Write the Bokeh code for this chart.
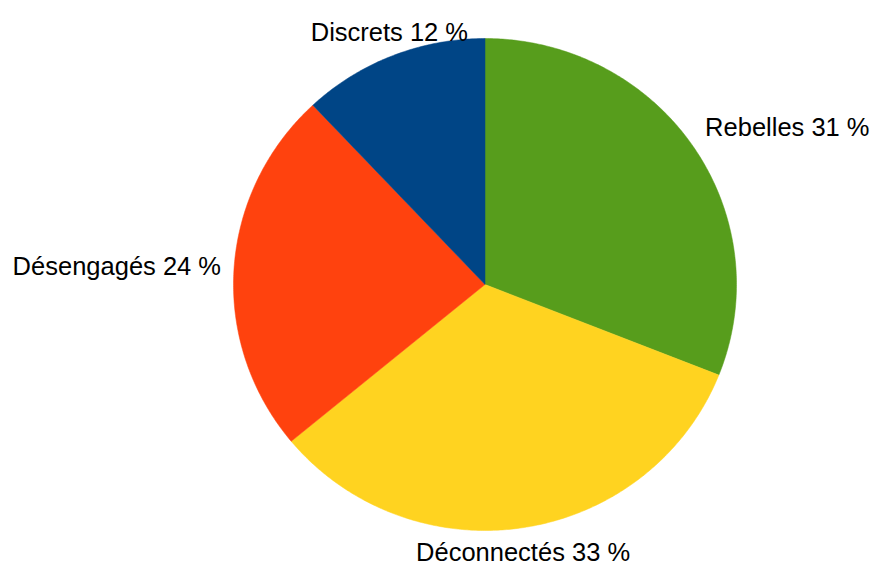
import numpy as np
from bokeh.plotting import figure
from bokeh.models import ColumnDataSource, Range1d
from bokeh.core.properties import value
from bokeh.embed import file_html
from bokeh.resources import INLINE

categories = ["Rebelles", "Déconnectés", "Désengagés", "Discrets"]
percents = [31, 33, 24, 12]
colors = ["#579D1C", "#FFD320", "#FF420E", "#004586"]

W, H = 873, 563
cx, cy = 484.5, H - 284.0
RX, RY = 251.5, 246.0
label_gap = 11.0
nudge_x = [3, -3, -2, 1]
nudge_y = [1, 0, -2, 0]

frac = np.array(percents, dtype=float) / sum(percents)
cum = np.concatenate([[0.0], np.cumsum(frac)])
start = np.pi / 2 - 2 * np.pi * cum[:-1]
end = np.pi / 2 - 2 * np.pi * cum[1:]
mid = (start + end) / 2

xs, ys = [], []
for a0, a1 in zip(start, end):
    n = max(8, int(abs(a1 - a0) / (2 * np.pi) * 720))
    t = np.linspace(a0, a1, n)
    xs.append(np.concatenate([[cx], cx + RX * np.cos(t)]))
    ys.append(np.concatenate([[cy], cy + RY * np.sin(t)]))

lx = cx + (RX + label_gap) * np.cos(mid)
ly = cy + (RY + label_gap) * np.sin(mid)
aligns = ["left" if c > 0.5 else ("right" if c < -0.5 else "center") for c in np.cos(mid)]
baselines = ["bottom" if s > 0.5 else ("top" if s < -0.5 else "middle") for s in np.sin(mid)]
labels = [f"{c} {p} %" for c, p in zip(categories, percents)]

src = ColumnDataSource(dict(xs=xs, ys=ys, color=colors))
lsrc = ColumnDataSource(dict(x=lx, y=ly, text=labels, align=aligns, baseline=baselines,
                             dx=nudge_x, dy=nudge_y))

p = figure(width=W, height=H, output_backend="svg", toolbar_location=None,
           x_range=Range1d(0, W), y_range=Range1d(0, H), min_border=0)
p.axis.visible = False
p.grid.visible = False
p.outline_line_color = None
p.background_fill_color = "white"
p.border_fill_color = "white"

p.patches(xs="xs", ys="ys", fill_color="color", line_color="color", line_width=0.5,
          source=src)
p.text(x="x", y="y", text="text", text_align="align", text_baseline="baseline",
       x_offset="dx", y_offset="dy",
       text_font=value("Liberation Sans"), text_font_size="25.5px", text_color="black",
       source=lsrc)

open("out.html", "w").write(file_html(p, INLINE))
